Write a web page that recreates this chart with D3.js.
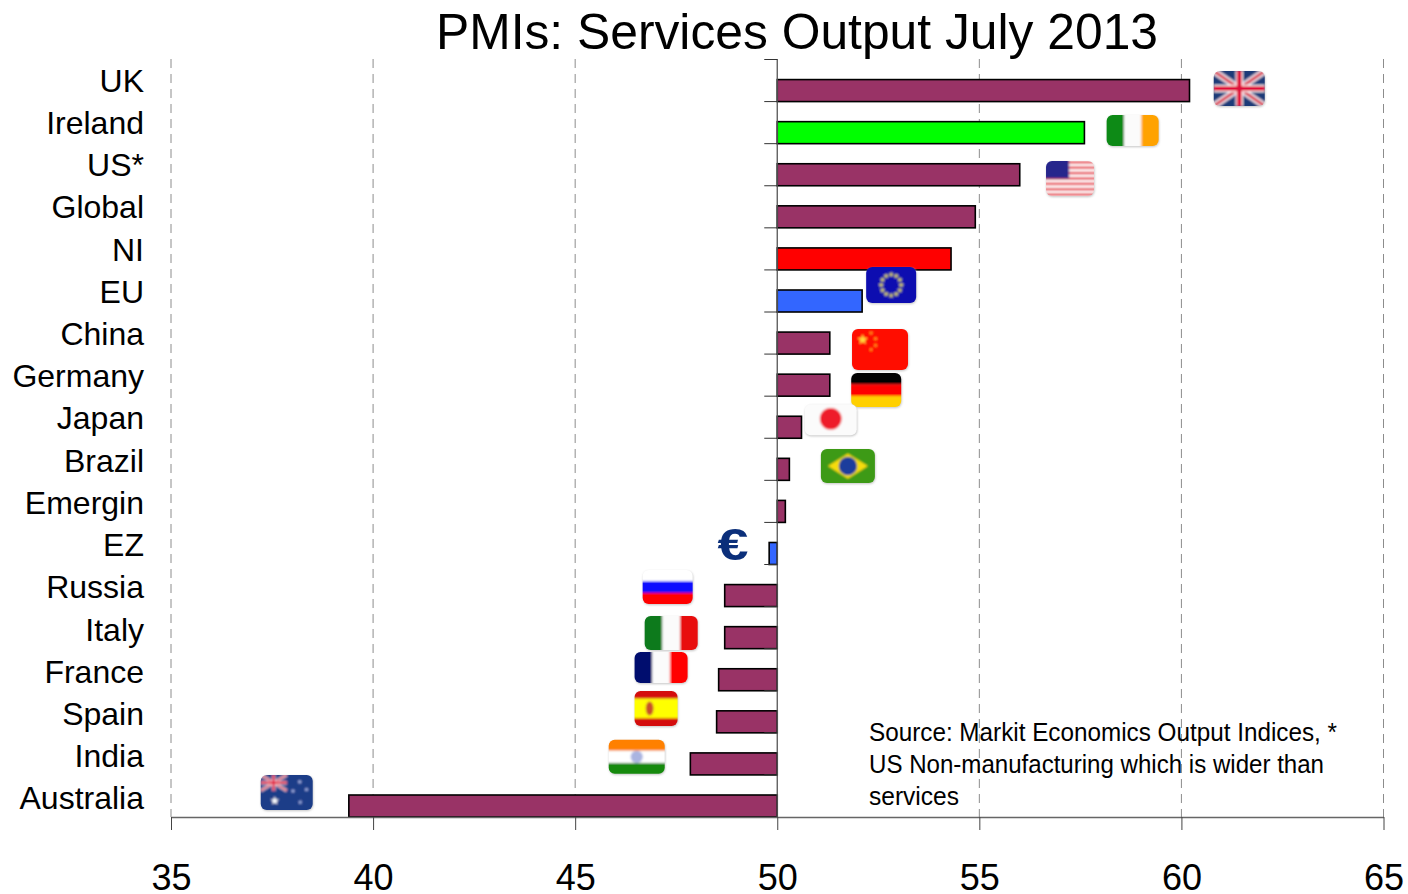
<!DOCTYPE html>
<html>
<head>
<meta charset="utf-8">
<script src="https://cdn.jsdelivr.net/npm/d3@7/dist/d3.min.js"></script>
<style>
html,body{margin:0;padding:0;background:#fff;overflow:hidden}
text{font-family:"Liberation Sans",Arial,sans-serif;fill:#000}
</style>
</head>
<body>
<svg id="chart" width="1408" height="894"></svg>
<script>
// Survey readings, in chart order from the top
const categories = ["UK","Ireland","US*","Global","NI","EU","China","Germany","Japan","Brazil","Emergin","EZ","Russia","Italy","France","Spain","India","Australia"];
const pmiValues = [60.2,57.6,56.0,54.9,54.3,52.1,51.3,51.3,50.6,50.3,50.2,49.8,48.7,48.7,48.55,48.5,47.85,39.4];
const barGroups = ["other","ie","other","other","ni","euro","other","other","other","other","other","euro","other","other","other","other","other","other"];
const xTicks = [35,40,45,50,55,60,65];
const baseline = 50;
const titleText = "PMIs: Services Output July 2013";
const sourceLines = ["Source: Markit Economics Output Indices, *","US Non-manufacturing which is wider than","services"];
const sourceWidths = [468,455,90];

const groupColour = {other:"#993366", ie:"#00ff00", ni:"#ff0000", euro:"#3366ff"};

const svg = d3.select("#chart");
const x = d3.scaleLinear().domain([35,65]).range([171,1383.5]);
const y = d3.scaleBand().domain(categories).range([59.5,817]).paddingInner(0).paddingOuter(0);
const yLabel = d3.scaleBand().domain(categories).range([59,819]);
const BAR_H = 22;

svg.append("text").attr("x",797).attr("y",49).attr("text-anchor","middle")
  .attr("font-size",50).attr("textLength",722).attr("lengthAdjust","spacingAndGlyphs").text(titleText);

// Dashed vertical gridlines
svg.append("g").selectAll("line").data(xTicks.filter(d=>d!==baseline)).join("line")
  .attr("x1",d=>x(d)).attr("x2",d=>x(d)).attr("y1",59).attr("y2",817)
  .attr("stroke","#8c8c8c").attr("stroke-width",1).attr("stroke-dasharray","9,6");

// Bars grow from the 50 baseline and sit on the bottom of their band
svg.append("g").selectAll("rect").data(categories).join("rect")
  .attr("x",(d,i)=>Math.min(x(pmiValues[i]),x(baseline)))
  .attr("width",(d,i)=>Math.abs(x(pmiValues[i])-x(baseline)))
  .attr("y",d=>y(d)+y.bandwidth()-BAR_H)
  .attr("height",BAR_H)
  .attr("fill",(d,i)=>groupColour[barGroups[i]])
  .attr("stroke","#000").attr("stroke-width",1.6);

// Bottom value axis
const xAxis = d3.axisBottom(x).tickValues(xTicks).tickSize(13).tickPadding(34).tickSizeOuter(0);
const gx = svg.append("g").attr("transform","translate(0,817)").call(xAxis);
gx.select(".domain").attr("stroke","#666").attr("stroke-width",1.5);
gx.selectAll(".tick line").attr("stroke","#444").attr("stroke-width",1);
gx.selectAll(".tick text").attr("font-size",36).attr("font-family",'"Liberation Sans",Arial,sans-serif').attr("fill","#000");

// Category axis on the 50 line, with ticks between the bands
svg.append("line").attr("x1",x(baseline)).attr("x2",x(baseline)).attr("y1",59).attr("y2",817)
  .attr("stroke","#555").attr("stroke-width",1.3);
svg.append("g").selectAll("line").data(d3.range(categories.length)).join("line")
  .attr("x1",x(baseline)-13).attr("x2",x(baseline))
  .attr("y1",i=>y(categories[i])).attr("y2",i=>y(categories[i]))
  .attr("stroke","#333").attr("stroke-width",1);

svg.append("g").selectAll("text").data(categories).join("text")
  .attr("x",144).attr("y",d=>yLabel(d)+yLabel.bandwidth()/2+11.5)
  .attr("text-anchor","end").attr("font-size",32).text(d=>d);

svg.append("text").attr("font-size",25).selectAll("tspan").data(sourceLines).join("tspan")
  .attr("x",869).attr("y",(d,i)=>741+i*32).attr("textLength",(d,i)=>sourceWidths[i])
  .attr("lengthAdjust","spacingAndGlyphs").text(d=>d);

// Flag painters: each draws inside a w × h box whose origin is the flag corner
const defs = svg.append("defs");
defs.append("filter").attr("id","soft").attr("x","-10%").attr("y","-10%").attr("width","120%").attr("height","120%")
  .append("feGaussianBlur").attr("stdDeviation",0.9);
defs.append("filter").attr("id","edge").attr("x","-15%").attr("y","-15%").attr("width","130%").attr("height","130%")
  .append("feGaussianBlur").attr("stdDeviation",1.1);

function rect(g,a,b,c,d,f){g.append("rect").attr("x",a).attr("y",b).attr("width",c).attr("height",d).attr("fill",f);}
function vTri(g,w,h,cols){cols.forEach((c,i)=>rect(g,i*w/3-(i===0?3:0),-3,w/3+3,h+6,c));}
function hTri(g,w,h,cols,fr){let t=0;cols.forEach((c,i)=>{rect(g,-3,t*h-(i===0?3:0),w+6,fr[i]*h+3,c);t+=fr[i];});}
function star(g,cx,cy,r,f){
  const pts=d3.range(10).map(i=>{const a=-Math.PI/2+i*Math.PI/5,q=i%2?r*0.42:r;return [cx+q*Math.cos(a),cy+q*Math.sin(a)];});
  g.append("polygon").attr("points",pts.join(" ")).attr("fill",f);
}
function unionJack(g,w,h,sw){
  const l=(a,b,c,d,col,wd)=>g.append("line").attr("x1",a).attr("y1",b).attr("x2",c).attr("y2",d).attr("stroke",col).attr("stroke-width",wd);
  l(0,0,w,h,"#f4e8ee",sw*1.3);l(w,0,0,h,"#f4e8ee",sw*1.3);
  l(0,0,w,h,"#d8344a",sw*.55);l(w,0,0,h,"#d8344a",sw*.55);
  l(w/2,0,w/2,h,"#fff",sw*1.5);l(0,h/2,w,h/2,"#fff",sw*1.5);
  l(w/2,0,w/2,h,"#e0103a",sw);l(0,h/2,w,h/2,"#e0103a",sw);
}
const painters = {
  UK(g,w,h){rect(g,-3,-3,w+6,h+6,"#1c3a78");unionJack(g,w,h,5);},
  IE(g,w,h){vTri(g,w,h,["#0a8a12","#fbfbfb","#ffa200"]);},
  US(g,w,h){
    rect(g,-3,-3,w+6,h+6,"#fff");
    d3.range(7).forEach(i=>rect(g,-3,i*h/6.5,w+6,h/13,"#e8505a"));
    rect(g,-3,-3,w*.48+3,h*.5+3,"#26268c");
  },
  EU(g,w,h){
    rect(g,-3,-3,w+6,h+6,"#0a0ab0");
    d3.range(12).forEach(i=>{const a=i*Math.PI/6;star(g,w/2+w*.2*Math.cos(a),h/2+h*.29*Math.sin(a),3,"#d8d060");});
  },
  CN(g,w,h){
    rect(g,-3,-3,w+6,h+6,"#ff0a00");star(g,w*.19,h*.26,5.5,"#ffd83a");
    [[.34,.1],[.42,.24],[.42,.4],[.34,.5]].forEach(p=>star(g,w*p[0],h*p[1],2.4,"#ff9a20"));
  },
  DE(g,w,h){hTri(g,w,h,["#000","#ff0000","#ffd000"],[.33,.34,.33]);},
  JP(g,w,h){rect(g,-3,-3,w+6,h+6,"#fbfbfb");g.append("circle").attr("cx",w/2).attr("cy",h*.47).attr("r",h*.35).attr("fill","#ee1c2c");},
  BR(g,w,h){
    rect(g,-3,-3,w+6,h+6,"#3c9a14");
    g.append("polygon").attr("points",[[w*.13,h/2],[w/2,h*.13],[w*.87,h/2],[w/2,h*.87]].join(" ")).attr("fill","#f6dc10");
    g.append("circle").attr("cx",w/2).attr("cy",h/2).attr("r",h*.27).attr("fill","#1c3c9c");
  },
  RU(g,w,h){hTri(g,w,h,["#fff","#0808ff","#ff0000"],[.33,.34,.33]);},
  IT(g,w,h){vTri(g,w,h,["#0a7a1a","#fbfbfb","#e80a0a"]);},
  FR(g,w,h){vTri(g,w,h,["#000a6e","#fbfbfb","#ff0000"]);},
  ES(g,w,h){
    hTri(g,w,h,["#d40a0a","#ffff00","#d40a0a"],[.22,.56,.22]);
    g.append("ellipse").attr("cx",w*.35).attr("cy",h/2).attr("rx",w*.09).attr("ry",h*.2).attr("fill","#c8502a");
  },
  IN(g,w,h){
    hTri(g,w,h,["#ff8000","#fff","#168a10"],[.32,.36,.32]);
    g.append("circle").attr("cx",w/2).attr("cy",h/2).attr("r",h*.18).attr("fill","#aab4e0");
  },
  AU(g,w,h){
    rect(g,-3,-3,w+6,h+6,"#1c3c88");
    const jack=g.append("g");unionJack(jack,w*.5,h*.45,2.4);
    star(g,w*.27,h*.74,4.5,"#fff");
    [[.75,.2],[.62,.46],[.88,.42],[.76,.78]].forEach(p=>star(g,w*p[0],h*p[1],2.4,"#aebcec"));
  }
};

// Flag boxes: painter, owning category, value the left edge lines up with, offset below the band top, size
const flagBoxes = [
  ["UK","UK",60.8,11.5,51,35],["IE","Ireland",58.15,13.4,52,31],["US","US*",56.65,17.3,48,35],
  ["EU","EU",52.2,-2.9,50,36],["CN","China",51.85,17,56,41],["DE","Germany",51.83,19,50,34],
  ["JP","Japan",50.68,8,52,31],["BR","Brazil",51.08,10.8,54,34],
  ["RU","Russia",46.67,5.5,50,34],["IT","Italy",46.72,9.4,53,34],["FR","France",46.47,3.3,53,31],
  ["ES","Spain",46.47,0.2,43,35],["IN","India",45.83,7,56,34],["AU","Australia",37.22,0,52,35]
];

const flags = svg.append("g");
flagBoxes.forEach((f,i)=>{
  const [code,cat,val,dy,w,h]=f;
  const g=flags.append("g").attr("transform",`translate(${x(val)},${y(cat)+dy})`);
  const id="clip"+i;
  defs.append("clipPath").attr("id",id).append("rect").attr("width",w).attr("height",h).attr("rx",6);
  g.append("rect").attr("x",.5).attr("y",1).attr("width",w).attr("height",h).attr("rx",6)
    .attr("fill","#c4c4c4").attr("filter","url(#edge)");
  const inner=g.append("g").attr("clip-path",`url(#${id})`).append("g").attr("filter","url(#soft)");
  painters[code](inner,w,h);
});

// Euro sign stands in for a flag beside the EZ bar
svg.append("text").attr("x",733).attr("y",560).attr("text-anchor","middle")
  .attr("font-size",44).attr("font-weight","bold").attr("textLength",31).attr("lengthAdjust","spacingAndGlyphs")
  .style("fill","#0b2f7a").text("€");
</script>
</body>
</html>
